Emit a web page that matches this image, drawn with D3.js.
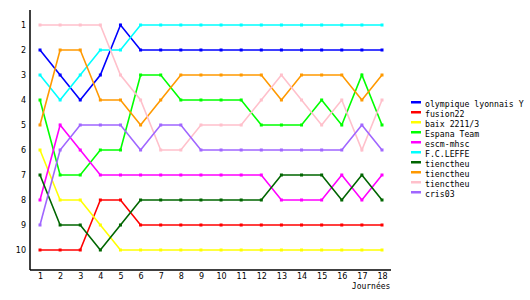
<!DOCTYPE html>
<html>
<head>
<meta charset="utf-8">
<script src="https://cdn.jsdelivr.net/npm/d3@7"></script>
<style>
  html, body { margin: 0; padding: 0; background: #fff; }
  svg { display: block; }
</style>
</head>
<body>
<svg id="chart" width="530" height="300"></svg>
<script>
const journees = [1,2,3,4,5,6,7,8,9,10,11,12,13,14,15,16,17,18];
const rankTicks = [1,2,3,4,5,6,7,8,9,10];
const teamNames = ["olympique lyonnais Y","fusion22","baix 2211/3","Espana Team","escm-mhsc","F.C.LEFFE","tienctheu","tienctheu","tienctheu","cris03"];
const teamColors = ["#0000ff","#ff0000","#ffff00","#00ff00","#ff00ff","#00ffff","#006600","#ff9900","#ffc0cb","#a066ff"];
const olympique = [2,3,4,3,1,2,2,2,2,2,2,2,2,2,2,2,2,2];
const fusion22  = [10,10,10,8,8,9,9,9,9,9,9,9,9,9,9,9,9,9];
const baix      = [6,8,8,9,10,10,10,10,10,10,10,10,10,10,10,10,10,10];
const espana    = [4,7,7,6,6,3,3,4,4,4,4,5,5,5,4,5,3,5];
const escm      = [8,5,6,7,7,7,7,7,7,7,7,7,8,8,8,7,8,7];
const leffe     = [3,4,3,2,2,1,1,1,1,1,1,1,1,1,1,1,1,1];
const tienc1    = [7,9,9,10,9,8,8,8,8,8,8,8,7,7,7,8,7,8];
const tienc2    = [5,2,2,4,4,5,4,3,3,3,3,3,4,3,3,3,4,3];
const tienc3    = [1,1,1,1,3,4,6,6,5,5,5,4,3,4,5,4,6,4];
const cris03    = [9,6,5,5,5,6,5,5,6,6,6,6,6,6,6,6,5,6];
const seriesValues = [olympique,fusion22,baix,espana,escm,leffe,tienc1,tienc2,tienc3,cris03];

const svg = d3.select("#chart");
const x = d3.scaleLinear().domain([1,18]).range([40,382]);
const y = d3.scaleLinear().domain([1,10]).range([25,250]);
const axisX0 = 30, axisX1 = 391, axisY0 = 10, axisY1 = 270;

// axes lines
svg.append("line").attr("x1",axisX0).attr("x2",axisX0).attr("y1",axisY0).attr("y2",axisY1)
  .attr("stroke","#000").attr("stroke-width",1.5);
svg.append("line").attr("x1",axisX0).attr("x2",axisX1).attr("y1",axisY1).attr("y2",axisY1)
  .attr("stroke","#000").attr("stroke-width",1.5);

const fontFam = "'DejaVu Sans', sans-serif";
const gx = svg.append("g").attr("transform",`translate(0,${axisY1})`)
  .call(d3.axisBottom(x).tickValues(journees).tickSize(0).tickPadding(3).tickFormat(d3.format("d")));
gx.select(".domain").remove();
gx.selectAll("text").attr("font-family",fontFam).attr("font-size","8px").attr("fill","#000");

const gy = svg.append("g").attr("transform",`translate(${axisX0},0)`)
  .call(d3.axisLeft(y).tickValues(rankTicks).tickSize(0).tickPadding(4).tickFormat(d3.format("d")));
gy.select(".domain").remove();
gy.selectAll("text").attr("font-family",fontFam).attr("font-size","8px").attr("fill","#000");

svg.append("text").attr("x",x(16.5)).attr("y",289).attr("font-family","'DejaVu Sans Mono', monospace")
  .attr("font-size","8px").attr("fill","#000").text("Journées");

const line = d3.line().x((d,i)=>x(journees[i])).y(d=>y(d));
seriesValues.forEach((vals,k)=>{
  const g = svg.append("g");
  g.append("path").attr("d",line(vals)).attr("fill","none")
    .attr("stroke",teamColors[k]).attr("stroke-width",1.6);
  g.selectAll("rect").data(vals).join("rect")
    .attr("x",(d,i)=>x(journees[i])-1.5).attr("y",d=>y(d)-1.5)
    .attr("width",3).attr("height",3).attr("fill",teamColors[k]);
});

// legend
const legend = svg.append("g").attr("transform","translate(411,101)");
teamNames.forEach((name,k)=>{
  const row = legend.append("g").attr("transform",`translate(0,${k*10})`);
  row.append("rect").attr("x",0).attr("y",0).attr("width",10).attr("height",2.5).attr("fill",teamColors[k]);
  row.append("text").attr("x",14).attr("y",6).attr("font-family","'DejaVu Sans Mono', monospace")
    .attr("font-size","8.2px").attr("fill","#000").text(name);
});
</script>
</body>
</html>
